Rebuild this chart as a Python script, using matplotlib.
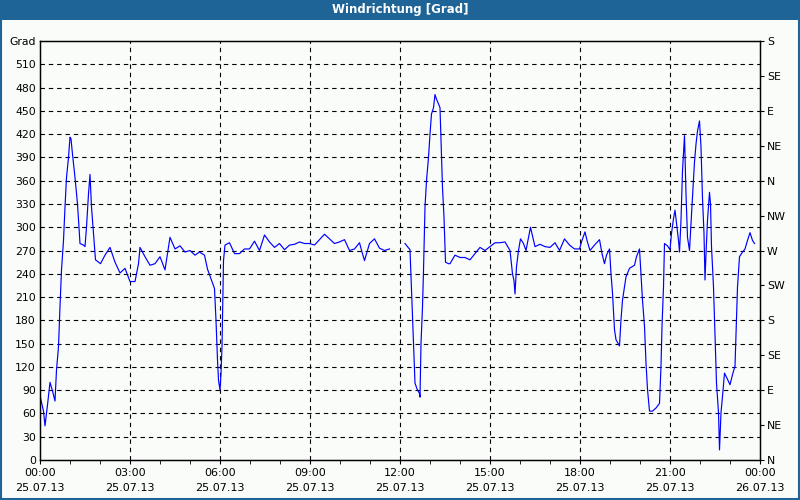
import numpy as np
import matplotlib
matplotlib.use('Agg')
import matplotlib.pyplot as plt
from matplotlib.patches import Rectangle

# minutes since 00:00 25.07.13 and wind direction in degrees
minutes_1 = [1, 7, 10, 15, 20, 25, 30, 33, 37, 40, 43, 47, 50, 53, 57, 60, 62, 65, 70, 75,
             80, 87, 90, 93, 97, 100, 103, 107, 111, 117, 121, 130, 140, 150, 160, 170, 180,
             190, 197, 200, 210, 220, 230, 240, 250, 260, 270, 280, 290, 300, 310]
degrees_1 = [80, 63, 44, 71, 100, 89, 76, 116, 146, 198, 245, 283, 326, 364, 390, 416, 414,
             394, 364, 330, 279, 277, 275, 300, 343, 368, 326, 292, 258, 255, 253, 264, 274,
             255, 241, 247, 230, 230, 253, 274, 262, 251, 253, 262, 245, 287, 272, 276, 268,
             270, 264]

minutes_2 = [319, 329, 335, 345, 349, 352, 355, 357, 360, 362, 364, 365, 367, 370, 379, 389,
             399, 409, 419, 429, 439, 449, 459, 469, 479, 489, 499, 509, 519, 529, 539, 549,
             559, 569, 579, 589, 599, 609, 619, 629, 639, 644, 649, 659, 669, 679, 689, 699]
degrees_2 = [268, 264, 246, 228, 221, 180, 129, 103, 90, 111, 146, 184, 257, 277, 280, 266,
             266, 272, 272, 282, 270, 290, 281, 274, 279, 271, 277, 278, 281, 279, 279, 277,
             284, 291, 285, 279, 281, 284, 270, 272, 280, 268, 257, 279, 285, 273, 270, 272]

minutes_3 = [730, 740, 743, 747, 750, 755, 759, 760, 762, 765, 767, 770, 773, 777, 780, 783,
             787, 790, 793, 797, 800, 801, 803, 805, 808, 811, 817, 820, 830, 840, 850, 860,
             870, 880, 890, 900, 910, 920, 930, 940, 945, 948, 950, 953, 957, 961, 967, 972,
             977, 981, 985, 990, 1000, 1010, 1020, 1030]
degrees_3 = [279, 271, 219, 150, 99, 90, 86, 81, 150, 197, 244, 326, 360, 390, 420, 446, 454,
             471, 465, 459, 454, 433, 390, 351, 313, 255, 253, 253, 264, 261, 261, 258, 266,
             274, 270, 275, 280, 280, 281, 270, 240, 231, 214, 249, 270, 285, 279, 270, 287,
             300, 289, 275, 278, 275, 274, 280]

minutes_4 = [1039, 1049, 1059, 1069, 1079, 1084, 1090, 1094, 1100, 1109, 1119, 1124, 1129,
             1133, 1139, 1142, 1145, 1149, 1152, 1159, 1162, 1165, 1169, 1172, 1179, 1189,
             1193, 1199, 1202, 1205, 1209, 1212, 1215, 1219, 1225, 1232, 1239, 1242, 1244,
             1247, 1249, 1255, 1260, 1263, 1267, 1270, 1273, 1277, 1279, 1282, 1285, 1289,
             1292, 1295, 1299, 1302, 1305, 1309, 1312, 1315, 1319, 1322, 1325, 1328, 1330,
             1332, 1335, 1339, 1341, 1343, 1347, 1350, 1353, 1357, 1359, 1362, 1365, 1369,
             1375, 1380, 1385, 1390, 1392, 1395, 1399, 1404, 1410, 1415, 1420, 1425, 1429]
degrees_4 = [270, 285, 277, 272, 272, 283, 294, 283, 270, 277, 284, 266, 253, 264, 272, 240,
             215, 168, 155, 147, 181, 206, 223, 236, 247, 251, 262, 272, 240, 206, 172, 125,
             91, 63, 63, 67, 73, 121, 172, 223, 279, 276, 271, 292, 311, 322, 305, 283, 268,
             309, 373, 418, 343, 287, 270, 305, 339, 384, 407, 424, 437, 403, 337, 292, 232,
             266, 309, 345, 330, 275, 223, 163, 99, 61, 13, 61, 82, 112, 104, 97, 110, 121,
             163, 223, 262, 267, 272, 283, 293, 283, 279]

x_ticks_time = ['00:00', '03:00', '06:00', '09:00', '12:00', '15:00', '18:00', '21:00', '00:00']
x_ticks_date = ['25.07.13'] * 8 + ['26.07.13']
compass = ['N', 'NE', 'E', 'SE', 'S', 'SW', 'W', 'NW', 'N', 'NE', 'E', 'SE', 'S']

# gap in the record between the second and third block
minutes = minutes_1 + minutes_2 + [715] + minutes_3 + minutes_4
degrees = degrees_1 + degrees_2 + [np.nan] + degrees_3 + degrees_4
hours = np.array(minutes) / 60.0

bg = '#fafcfa'
bar = '#1e6496'

fig = plt.figure(figsize=(8, 5), dpi=100, facecolor=bg)
fig.patches.append(Rectangle((0, 0.96), 1, 0.04, transform=fig.transFigure,
                             facecolor=bar, edgecolor='none', zorder=0))
fig.patches.append(Rectangle((0.001, 0.002), 0.998, 0.997, transform=fig.transFigure,
                             facecolor='none', edgecolor=bar, lw=1.5, zorder=5))
fig.text(0.5, 0.98, 'Windrichtung [Grad]', color='white', fontsize=8.5,
         fontweight='bold', ha='center', va='center')

ax = fig.add_axes([0.05, 0.08, 0.90, 0.838])
ax.set_facecolor(bg)
ax.plot(hours, degrees, color='#0000ff', lw=0.85)

ax.set_xlim(0, 24)
ax.set_ylim(0, 540)
ax.set_xticks(np.arange(0, 25, 3))
ax.set_xticks(np.arange(0, 25, 1), minor=True)
ax.set_xticklabels([t + '\n' + d for t, d in zip(x_ticks_time, x_ticks_date)],
                   fontsize=8, linespacing=1.6)
yt = np.arange(0, 541, 30)
ax.set_yticks(yt)
ax.set_yticklabels([str(v) for v in yt[:-1]] + ['Grad'], fontsize=7.8)
ax.tick_params(axis='y', length=0, pad=3)
ax.tick_params(axis='x', which='both', direction='out', length=3, pad=3)

for v in yt[1:-1]:
    ax.axhline(v, color='black', lw=0.8, ls=(0, (4, 3.5)), zorder=1)
for h in range(3, 24, 3):
    ax.axvline(h, color='black', lw=0.8, ls=(0, (4, 3.5)), zorder=1)
for s in ax.spines.values():
    s.set_color('black')
    s.set_linewidth(1)

ax2 = ax.twinx()
ax2.set_ylim(0, 540)
ax2.set_yticks(np.arange(0, 541, 45))
ax2.set_yticklabels(compass, fontsize=7.8)
ax2.tick_params(axis='y', length=3, pad=2)

fig.savefig('out.png', dpi=100, facecolor=bg)
